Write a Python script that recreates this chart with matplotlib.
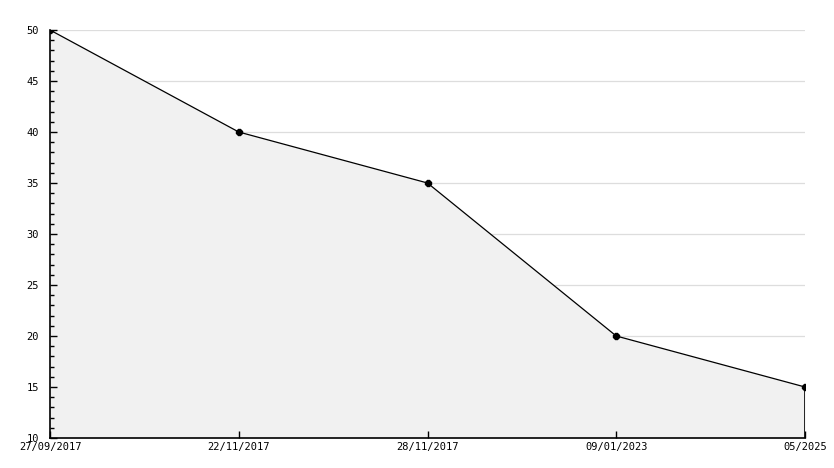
import numpy as np
import matplotlib.pyplot as plt
from matplotlib.ticker import MultipleLocator

# data
labels = ["27/09/2017", "22/11/2017", "28/11/2017", "09/01/2023", "05/2025"]
values = [50, 40, 35, 20, 15]

W, H = 834, 468
fig = plt.figure(figsize=(W / 100, H / 100), dpi=100)
ax = fig.add_axes([50 / W, (H - 438) / H, (805 - 50) / W, (438 - 30) / H])

x = np.arange(len(values))
# grid behind the fill
for yv in range(15, 51, 5):
    ax.axhline(yv, color="#dddddd", lw=0.9, zorder=0)
ax.fill_between(x, values, 10, color="#f1f1f1", lw=0, zorder=1)
ax.plot(x, values, color="black", lw=0.9, zorder=3)
ax.plot(x, values, ls="none", marker="8", ms=4.5, color="black", zorder=4)
ax.plot([x[-1], x[-1]], [10, values[-1]], color="black", lw=1.2, zorder=3)

ax.set_xlim(0, len(values) - 1)
ax.set_ylim(10, 50)
ax.yaxis.set_major_locator(MultipleLocator(5))
ax.yaxis.set_minor_locator(MultipleLocator(1))
ax.set_axisbelow(False)

ax.set_xticks(x)
ax.set_xticklabels(labels)
ax.tick_params(axis="x", direction="in", length=5, width=1, pad=3, labelsize=7.5)
ax.tick_params(axis="y", which="major", direction="in", length=5, width=1, pad=8, labelsize=7.5)
ax.tick_params(axis="y", which="minor", direction="in", length=3, width=1)
for lab in ax.get_xticklabels() + ax.get_yticklabels():
    lab.set_fontfamily("DejaVu Sans Mono")

for s in ["top", "right"]:
    ax.spines[s].set_visible(False)
for s in ["left", "bottom"]:
    ax.spines[s].set_linewidth(1.2)

fig.savefig("out.png", dpi=100)
